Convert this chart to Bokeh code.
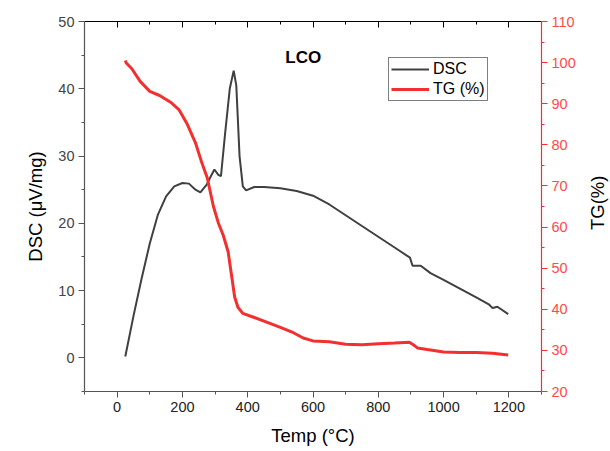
import math
from bokeh.plotting import figure
from bokeh.layouts import row
from bokeh.models import Range1d, LinearAxis, SingleIntervalTicker, Legend, LegendItem, Label
from bokeh.embed import file_html
from bokeh.resources import INLINE

# DSC data
dsc_temp = [25, 50, 75, 100, 125, 150, 175, 200, 220, 240, 255, 275, 285, 298, 310, 318,
            330, 345, 357, 365, 375, 385, 395, 420, 450, 500, 550, 600, 650, 700, 750,
            800, 850, 897, 905, 930, 960, 1000, 1050, 1100, 1140, 1150, 1165, 1198]
dsc_val = [0.2, 6.2, 11.8, 17.0, 21.3, 24.0, 25.5, 26.0, 25.9, 25.0, 24.6, 25.8, 26.8, 28.0, 27.2, 27.0,
           33.0, 40.0, 42.7, 40.5, 30.0, 25.5, 24.9, 25.4, 25.4, 25.2, 24.8, 24.1, 22.8, 21.2, 19.6,
           18.0, 16.4, 14.9, 13.7, 13.7, 12.6, 11.6, 10.3, 9.0, 7.9, 7.4, 7.6, 6.5]

# TG data
tg_temp = [25, 28, 45, 70, 100, 130, 165, 190, 215, 240, 260, 276, 295, 310, 325, 340, 350,
           360, 370, 385, 420, 460, 500, 540, 570, 600, 650, 700, 750, 800, 850, 895, 905,
           920, 950, 1000, 1050, 1100, 1150, 1198]
tg_val = [100.5, 99.9, 98.5, 95.5, 93.0, 92.0, 90.3, 88.5, 85.0, 80.5, 75.5, 72.0, 65.0, 61.0, 58.0, 54.0, 48.5,
          43.0, 40.5, 39.0, 38.0, 36.8, 35.6, 34.3, 33.0, 32.3, 32.1, 31.5, 31.4, 31.6, 31.8, 32.0, 31.5,
          30.6, 30.2, 29.6, 29.5, 29.5, 29.3, 28.9]

FONT = "Liberation Sans"
RED = "#f23030"
GREY = "#404040"
HEIGHT = 443

p = figure(frame_width=457, frame_height=370, x_range=Range1d(-100, 1300), y_range=Range1d(-5, 50),
           output_backend="svg", toolbar_location=None,
           min_border_left=84, min_border_right=42, min_border_top=21, min_border_bottom=52)
p.extra_y_ranges = {"tg": Range1d(20, 110)}
p.xgrid.visible = False
p.ygrid.visible = False
p.outline_line_color = None
p.background_fill_color = "white"

def style_axis(ax, color, label_color):
    ax.axis_line_color = color
    ax.major_tick_line_color = color
    ax.minor_tick_line_color = color
    ax.axis_line_width = 1.2
    ax.major_tick_out = 6
    ax.major_tick_in = 0
    ax.minor_tick_out = 3
    ax.minor_tick_in = 0
    ax.major_label_text_font = FONT
    ax.major_label_text_font_size = "14.5px"
    ax.major_label_text_color = label_color
    ax.major_label_standoff = 4
    ax.axis_label_text_font = FONT
    ax.axis_label_text_font_size = "18.5px"
    ax.axis_label_text_font_style = "normal"
    ax.axis_label_text_color = "black"

xax = p.xaxis[0]
xax.ticker = SingleIntervalTicker(interval=200, num_minor_ticks=2)
xax.axis_label = "Temp (°C)"
style_axis(xax, "#555555", "#222222")
xax.axis_label_standoff = 10

yax = p.yaxis[0]
yax.ticker = SingleIntervalTicker(interval=10, num_minor_ticks=2)
yax.axis_label = "DSC (μV/mg)"
style_axis(yax, "#555555", "#444444")
yax.axis_label_standoff = 9

rax = LinearAxis(y_range_name="tg",
                 ticker=SingleIntervalTicker(interval=10, num_minor_ticks=2))
style_axis(rax, RED, "#ff4a4a")
p.add_layout(rax, "right")

tax = LinearAxis(ticker=SingleIntervalTicker(interval=200, num_minor_ticks=2))
tax.axis_line_color = "black"
tax.major_tick_line_color = "black"
tax.minor_tick_line_color = "black"
tax.major_tick_in = 6
tax.major_tick_out = 0
tax.minor_tick_in = 3
tax.minor_tick_out = 0
tax.major_label_text_color = None
tax.major_label_text_font_size = "1px"
tax.major_label_standoff = 0
p.add_layout(tax, "above")

r_dsc = p.line(dsc_temp, dsc_val, line_color=GREY, line_width=2)
r_tg = p.line(tg_temp, tg_val, line_color=RED, line_width=3, y_range_name="tg")

legend = Legend(items=[LegendItem(label="DSC", renderers=[r_dsc]),
                       LegendItem(label="TG (%)", renderers=[r_tg])],
                location=(304, 290), orientation="vertical")
legend.label_text_font = FONT
legend.label_text_font_size = "16px"
legend.label_text_color = "black"
legend.glyph_width = 38
legend.glyph_height = 18
legend.label_height = 18
legend.label_standoff = 4
legend.spacing = 2
legend.padding = 2
legend.margin = 0
legend.border_line_color = "black"
legend.border_line_width = 1
legend.background_fill_alpha = 1
p.add_layout(legend, "center")

p.add_layout(Label(x=570, y=44.6, text="LCO", text_font=FONT, text_font_size="17px",
                   text_font_style="bold", text_color="black", text_align="center",
                   text_baseline="middle"))

# narrow strip holding the right axis title, reading bottom-to-top
side = figure(width=27, height=HEIGHT, x_range=Range1d(0, 27), y_range=Range1d(0, HEIGHT),
              x_axis_type=None, y_axis_type=None, output_backend="svg", toolbar_location=None,
              min_border=0)
side.xgrid.visible = False
side.ygrid.visible = False
side.outline_line_color = None
side.add_layout(Label(x=14, y=HEIGHT - 220, text="TG(%)", text_font=FONT,
                      text_font_size="18.5px", text_color="black", angle=math.pi / 2,
                      text_align="center", text_baseline="middle"))

layout = row(p, side, spacing=0)
open("out.html", "w").write(file_html(layout, INLINE))
